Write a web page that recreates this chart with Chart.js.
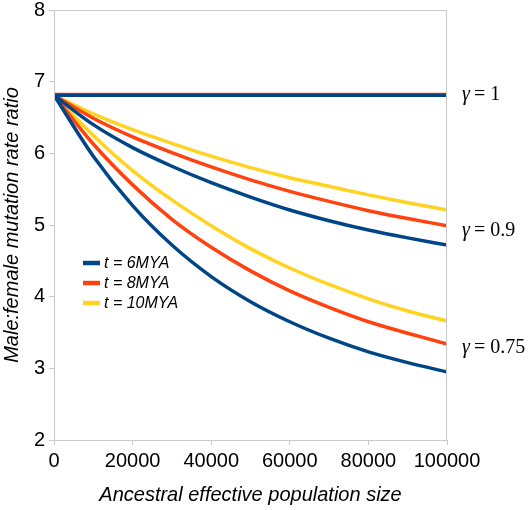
<!DOCTYPE html>
<html>
<head>
<meta charset="utf-8">
<script src="https://cdn.jsdelivr.net/npm/chart.js@4/dist/chart.umd.min.js"></script>
<style>
  html, body { margin: 0; padding: 0; background: #fff; }
  #wrap { width: 531px; height: 510px; }
</style>
</head>
<body>
<div id="wrap"><canvas id="ratioChart" width="531" height="510"></canvas></div>
<script>
// ancestral effective population size
const popSizes = [0, 10000, 20000, 30000, 40000, 50000, 60000, 70000, 80000, 90000, 100000];

// gamma = 1 (flat)
const g100_t6  = [6.81, 6.81, 6.81, 6.81, 6.81, 6.81, 6.81, 6.81, 6.81, 6.81, 6.81];
const g100_t8  = [6.82, 6.82, 6.82, 6.82, 6.82, 6.82, 6.82, 6.82, 6.82, 6.82, 6.82];
const g100_t10 = [6.81, 6.81, 6.81, 6.81, 6.81, 6.81, 6.81, 6.81, 6.81, 6.81, 6.81];

// gamma = 0.9
const g090_t6  = [6.81, 6.40, 6.08, 5.82, 5.59, 5.39, 5.21, 5.06, 4.93, 4.82, 4.72];
const g090_t8  = [6.81, 6.49, 6.23, 6.01, 5.81, 5.63, 5.47, 5.33, 5.20, 5.09, 4.99];
const g090_t10 = [6.81, 6.55, 6.33, 6.14, 5.96, 5.80, 5.66, 5.54, 5.42, 5.31, 5.21];

// gamma = 0.75
const g075_t6  = [6.81, 5.96, 5.27, 4.72, 4.28, 3.93, 3.65, 3.42, 3.23, 3.08, 2.95];
const g075_t8  = [6.81, 6.13, 5.56, 5.08, 4.69, 4.36, 4.08, 3.85, 3.65, 3.49, 3.34];
const g075_t10 = [6.81, 6.25, 5.76, 5.35, 4.99, 4.67, 4.40, 4.17, 3.97, 3.80, 3.66];

const seriesNames = ['t = 6MYA', 't = 8MYA', 't = 10MYA'];
const seriesColors = ['#004586', '#ff420e', '#ffd320'];
const gammaLabels = [
    { text: '1', y: 95 },
    { text: '0.9', y: 231 },
    { text: '0.75', y: 348 }
];

const groups = [
    [g100_t6, g100_t8, g100_t10],
    [g090_t6, g090_t8, g090_t10],
    [g075_t6, g075_t8, g075_t10]
];

function toPoints(values) {
    return values.map((v, i) => ({ x: popSizes[i], y: v }));
}

const datasets = [];
groups.forEach((group, gi) => {
    group.forEach((values, si) => {
        datasets.push({
            label: seriesNames[si],
            data: toPoints(values),
            borderColor: seriesColors[si],
            borderWidth: 3.5,
            pointRadius: 0,
            fill: false,
            cubicInterpolationMode: 'monotone',
            order: si
        });
    });
});

const extras = {
    id: 'extras',
    afterDraw(chart) {
        const ctx = chart.ctx;
        const area = chart.chartArea;
        ctx.save();

        // plot frame
        ctx.strokeStyle = '#c8c8c8';
        ctx.lineWidth = 1;
        ctx.strokeRect(area.left + 0.5, area.top + 0.5, area.right - area.left - 1, area.bottom - area.top);

        // gamma labels
        ctx.fillStyle = '#000';
        ctx.textBaseline = 'middle';
        gammaLabels.forEach(g => {
            let x = area.right + 15;
            ctx.font = 'italic 20px "Liberation Serif"';
            ctx.fillText('γ', x, g.y);
            x += ctx.measureText('γ').width + 4;
            ctx.font = '20px "Liberation Serif"';
            ctx.fillText('= ' + g.text, x, g.y);
        });

        // legend
        ctx.font = 'italic 16px "Liberation Sans"';
        seriesNames.forEach((name, i) => {
            const y = 263 + i * 20;
            ctx.strokeStyle = seriesColors[i];
            ctx.lineWidth = 4.5;
            ctx.beginPath();
            ctx.moveTo(83, y);
            ctx.lineTo(100, y);
            ctx.stroke();
            ctx.fillStyle = '#000';
            ctx.fillText(name, 104, y + 1);
        });
        ctx.restore();
    }
};

new Chart(document.getElementById('ratioChart'), {
    type: 'line',
    data: { datasets: datasets },
    options: {
        responsive: false,
        animation: false,
        layout: { padding: { left: 0, right: 84, top: 10, bottom: 0 } },
        plugins: { legend: { display: false }, tooltip: { enabled: false } },
        scales: {
            x: {
                type: 'linear',
                min: 0,
                max: 100000,
                afterFit(scale) { scale.height = 70; },
                ticks: {
                    stepSize: 20000,
                    maxRotation: 0,
                    color: '#000',
                    padding: 4,
                    font: { family: 'Liberation Sans', size: 20 },
                    callback: v => String(v)
                },
                grid: { drawOnChartArea: false, drawTicks: true, tickLength: 5, color: '#c8c8c8' },
                border: { color: '#c8c8c8' },
                title: {
                    display: true,
                    text: 'Ancestral effective population size',
                    color: '#000',
                    padding: { top: 0, bottom: 3 },
                    font: { family: 'Liberation Sans', size: 20, style: 'italic' }
                }
            },
            y: {
                min: 2,
                max: 8,
                afterFit(scale) {
                    scale.width = 54;
                    scale.paddingTop = 0;
                    scale.paddingBottom = 0;
                },
                ticks: {
                    stepSize: 1,
                    color: '#000',
                    padding: 4,
                    font: { family: 'Liberation Sans', size: 20 }
                },
                grid: { drawOnChartArea: false, drawTicks: true, tickLength: 5, color: '#c8c8c8' },
                border: { color: '#c8c8c8' },
                title: {
                    display: true,
                    text: 'Male:female mutation rate ratio',
                    color: '#000',
                    padding: { top: 0, bottom: 0 },
                    font: { family: 'Liberation Sans', size: 20, style: 'italic' }
                }
            }
        }
    },
    plugins: [extras]
});
</script>
</body>
</html>
